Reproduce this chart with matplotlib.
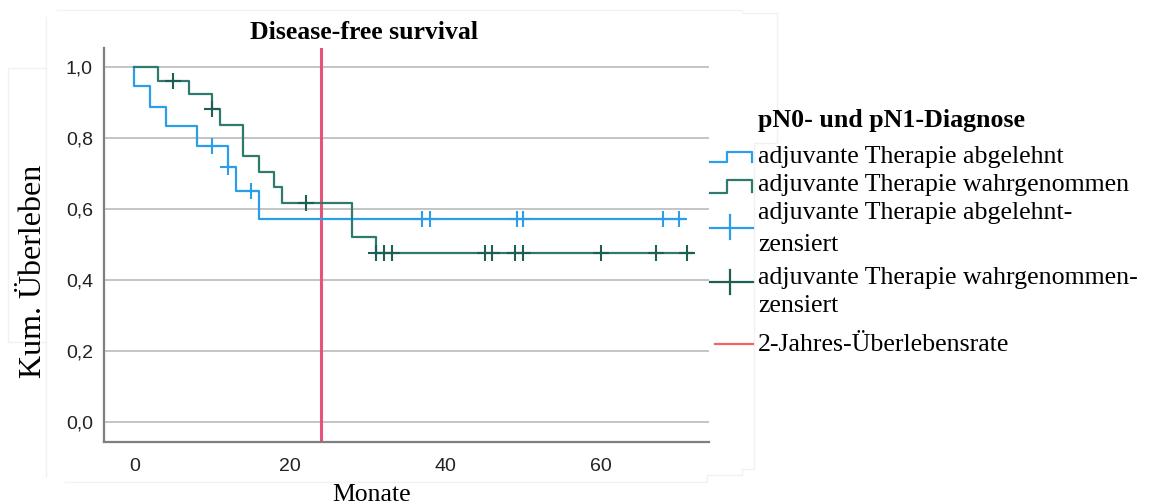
import numpy as np
import matplotlib.pyplot as plt

# Kaplan-Meier Stufen (Monate, kum. Ueberleben)
abgelehnt_t = [0, 0, 2, 4, 8, 12, 13, 16, 70.8]
abgelehnt_s = [1.0, 0.947, 0.887, 0.833, 0.777, 0.718, 0.650, 0.571, 0.571]
abgelehnt_zensiert = [10, 12, 15, 37, 38, 49.2, 50, 68, 70]

wahrg_t = [0, 3, 7, 10, 11, 14, 16, 18, 19, 28, 31, 71.7]
wahrg_s = [1.0, 0.961, 0.922, 0.880, 0.836, 0.748, 0.704, 0.660, 0.615, 0.521, 0.476, 0.476]
wahrg_zensiert = [5, 10, 22, 31, 32.1, 33.1, 45.1, 45.9, 48.9, 50, 60, 67, 71]

grenze_monate = 24

x_ticks = [0, 20, 40, 60]
y_ticks = [0.0, 0.2, 0.4, 0.6, 0.8, 1.0]
y_tick_labels = ['0,0', '0,2', '0,4', '0,6', '0,8', '1,0']

legend_title = 'pN0- und pN1-Diagnose'
legend_labels = ['adjuvante Therapie abgelehnt',
                 'adjuvante Therapie wahrgenommen',
                 'adjuvante Therapie abgelehnt-\nzensiert',
                 'adjuvante Therapie wahrgenommen-\nzensiert',
                 '2-Jahres-Überlebensrate']

BLUE = '#2b9de9'
GREEN = '#2e7a6e'
GREEN_DARK = '#1d5f55'
RED = '#e5527a'
RED_LEG = '#f06464'
FRAME = '#f1f1f1'
SERIF = 'Liberation Serif'
SANS = 'Liberation Sans'

W, H = 1149, 504


def censor_y(t, s, c):
    idx = np.searchsorted(np.array(t), np.array(c), side='right') - 1
    return np.array(s)[idx]


fig = plt.figure(figsize=(W / 100, H / 100), dpi=100)

# faint screenshot frames behind everything
lax = fig.add_axes([0, 0, 1, 1], zorder=0)
lax.set_xlim(0, W)
lax.set_ylim(H, 0)
lax.axis('off')
for xs, ys in [([57, 742, 742, 777, 777, 754], [10, 10, 13, 13, 143, 143]),
               ([754, 754, 742, 742, 707, 707, 65], [143, 469, 469, 475, 475, 481.7, 481.7]),
               ([46, 46], [17, 476]),
               ([46, 8, 8, 46], [68, 68, 342, 342])]:
    lax.plot(xs, ys, color=FRAME, lw=1)

ax = fig.add_axes([104 / W, 1 - 441.7 / H, 605.3 / W, 393.4 / H], zorder=1)
ax.patch.set_alpha(0)

ax.axvline(grenze_monate, color=RED, lw=2.2, zorder=2.5)
ax.step(abgelehnt_t, abgelehnt_s, where='post', color=BLUE, lw=1.6, zorder=3)
ax.step(wahrg_t, wahrg_s, where='post', color=GREEN, lw=1.6, zorder=3)
ax.plot(abgelehnt_zensiert, censor_y(abgelehnt_t, abgelehnt_s, abgelehnt_zensiert),
        '+', color=BLUE, ms=11, mew=1.5, zorder=4)
ax.plot(wahrg_zensiert, censor_y(wahrg_t, wahrg_s, wahrg_zensiert),
        '+', color=GREEN_DARK, ms=11, mew=1.5, zorder=4)

ax.set_xlim(-3.92, 73.9)
ax.set_ylim(-0.056, 1.052)
ax.set_xticks(x_ticks)
ax.set_yticks(y_ticks)
ax.set_yticklabels(y_tick_labels)
ax.yaxis.grid(True, color='#c4c4c4', lw=1.4)
ax.set_axisbelow(True)
ax.tick_params(length=0, labelsize=14, colors='#222222')
ax.tick_params(axis='x', pad=11.5)
ax.tick_params(axis='y', pad=8)
for lab in ax.get_xticklabels() + ax.get_yticklabels():
    lab.set_family(SANS)
for side in ['top', 'right']:
    ax.spines[side].set_visible(False)
for side in ['left', 'bottom']:
    ax.spines[side].set_color('#7f7f7f')
    ax.spines[side].set_linewidth(1.6)

ax.set_title('Disease-free survival', family=SERIF, fontweight='bold', fontsize=18.5,
             x=(364 - 104) / 605.3, y=(441.7 - 39.3) / 393.4, va='baseline', pad=0)
ax.set_xlabel('Monate', family=SERIF, fontsize=18.5, va='baseline')
ax.xaxis.set_label_coords((372 - 104) / 605.3, (441.7 - 500.7) / 393.4)
ax.set_ylabel('Kum. Überleben', family=SERIF, fontsize=23, va='center')
ax.yaxis.set_label_coords((34 - 104) / 605.3, (441.7 - 271) / 393.4)

# Legende von Hand, in Pixelkoordinaten
gax = fig.add_axes([0, 0, 1, 1], zorder=2)
gax.set_xlim(0, W)
gax.set_ylim(H, 0)
gax.axis('off')

gax.text(758, 126.7, legend_title, family=SERIF, fontweight='bold', fontsize=18.6, va='baseline')
gax.plot([710, 727, 727, 752, 752], [161.7, 161.7, 151.7, 151.7, 161.5], color=BLUE, lw=1.6)
gax.plot([710, 727, 727, 752, 752], [192.7, 192.7, 180, 180, 191.7], color=GREEN, lw=1.6)
gax.plot([710, 752.7], [227.7, 227.7], color=BLUE, lw=1.6)
gax.plot([730, 730], [215, 239.3], color=BLUE, lw=1.6)
gax.plot([710, 752.7], [281.7, 281.7], color=GREEN_DARK, lw=1.6)
gax.plot([730, 730], [270, 294], color=GREEN_DARK, lw=1.6)
gax.plot([715, 753], [344, 344], color=RED_LEG, lw=1.6)

baselines = [[163.3], [190.7], [219, 251], [284.3, 312.3], [350.7]]
for label, ys in zip(legend_labels, baselines):
    for line, yb in zip(label.split('\n'), ys):
        gax.text(758, yb, line, family=SERIF, fontsize=18.6, va='baseline')

fig.savefig('out.png', dpi=100)
